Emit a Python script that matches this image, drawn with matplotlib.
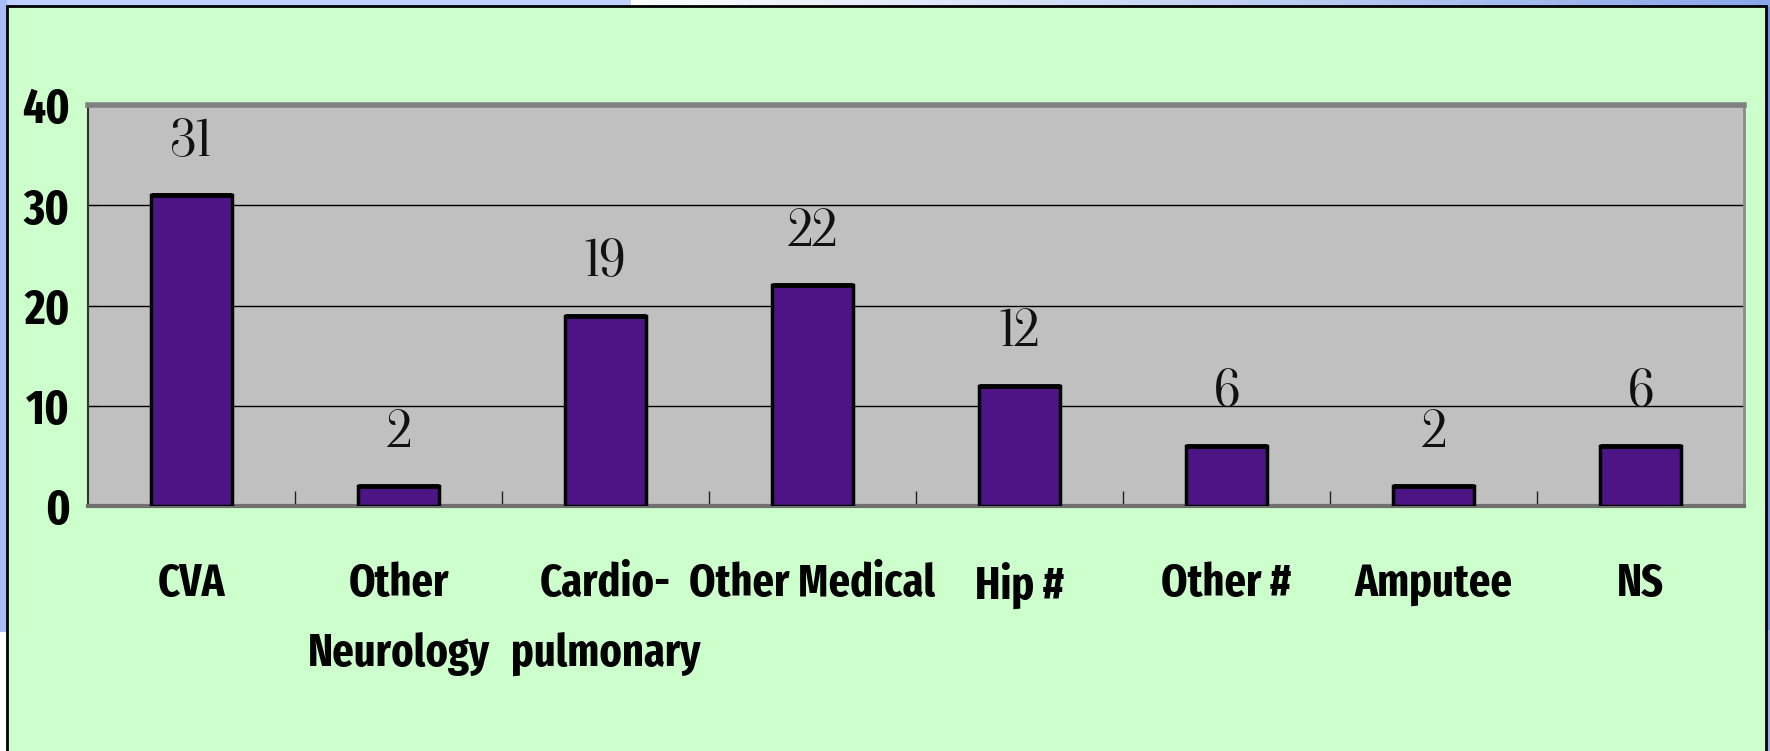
import matplotlib
matplotlib.use("Agg")
import matplotlib.pyplot as plt
import numpy as np
from matplotlib.patches import Rectangle

# data
categories = ["CVA", "Other\nNeurology", "Cardio-\npulmonary", "Other Medical",
              "Hip #", "Other #", "Amputee", "NS"]
counts = [31, 2, 19, 22, 12, 6, 2, 6]
y_ticks = [0, 10, 20, 30, 40]

W, H = 1770, 751
fig = plt.figure(figsize=(W / 100, H / 100), dpi=100)
fig.patch.set_facecolor("white")

# background layer in pixel coords
bg = fig.add_axes([0, 0, 1, 1], zorder=-10)
bg.axis("off")
# top strip: light blue, then white -> blue gradient
bg.add_patch(Rectangle((0, 0), 631, 7, color="#c0cffb", lw=0))
grad = np.linspace(0, 1, 256)[None, :, None]
c0 = np.array([1.0, 1.0, 1.0])
c1 = np.array([0x8a, 0xa6, 0xea]) / 255
bg.imshow(c0 + (c1 - c0) * grad, extent=(631, W, 7, 0), aspect="auto")
# side strips
bg.add_patch(Rectangle((0, 0), 7, 632, color="#a8bcf8", lw=0))
bg.add_patch(Rectangle((1766, 7), 4, 623, color="#6f8ff0", lw=0))
bg.add_patch(Rectangle((1766, 630), 4, 121, color="#9aaee8", lw=0))
# green panel
bg.add_patch(Rectangle((7, 6), 1759, 760, facecolor="#ccffcc", edgecolor="black", lw=2))
bg.set_xlim(0, W)
bg.set_ylim(H, 0)

# main axes
ax = fig.add_axes([88 / W, 1 - 506 / H, (1744 - 88) / W, (506 - 105) / H])
ax.set_facecolor("#c0c0c0")
x = np.arange(len(categories))
ax.bar(x, counts, width=0.39, color="#4c1485", edgecolor="black", linewidth=2.5, zorder=3)
ax.hlines(counts, x - 0.195, x + 0.195, color="black", linewidth=3.5, zorder=4)

num_font = ["Oranienbaum", "Cormorant Garamond", "Liberation Serif", "DejaVu Serif"]
for xi, v in zip(x, counts):
    ax.annotate(str(v), (xi, v), xytext=(0, 19), textcoords="offset points",
                ha="center", va="bottom", fontsize=38,
                family=num_font, color="#111111")

ax.set_xlim(-0.5, len(categories) - 0.5)
ax.set_ylim(0, 40)
ax.set_yticks(y_ticks)
ax.yaxis.grid(True, color="black", linewidth=1, zorder=1)
ax.set_axisbelow(True)

lab_font = ["Fira Sans Extra Condensed", "Barlow Condensed", "DejaVu Sans"]
ax.set_yticklabels([str(t) for t in y_ticks], family=lab_font, fontweight="bold", fontsize=35)
ax.tick_params(axis="y", direction="in", length=8, color="black", pad=13)

ax.set_xticks(x)
ax.set_xticklabels(categories, family=lab_font, fontweight="bold", fontsize=33, linespacing=1.8)
ax.set_xticks(np.arange(0.5, len(categories), 1.0), minor=True)
ax.tick_params(axis="x", which="major", length=0, pad=40)
ax.tick_params(axis="x", which="minor", direction="in", length=11, width=1, color="#222222")

ax.spines["top"].set_color("#808080")
ax.spines["top"].set_linewidth(4)
ax.spines["right"].set_color("#8a8a8a")
ax.spines["right"].set_linewidth(2)
ax.spines["left"].set_color("#333333")
ax.spines["left"].set_linewidth(1.5)
ax.spines["bottom"].set_color("#707070")
ax.spines["bottom"].set_linewidth(3)

fig.savefig("out.png", dpi=100)
